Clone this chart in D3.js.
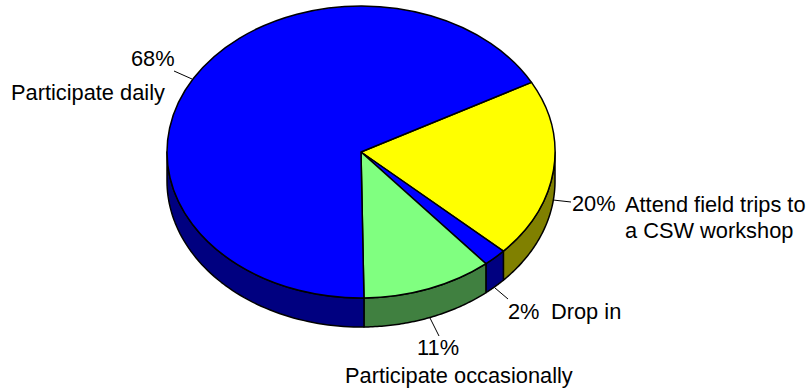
<!DOCTYPE html>
<html>
<head>
<meta charset="utf-8">
<script src="https://cdn.jsdelivr.net/npm/d3@7"></script>
<style>
html,body{margin:0;padding:0;background:#fff}
svg{display:block}
text{font-family:"Liberation Sans",Arial,sans-serif;font-size:21.8px;fill:#000}
</style>
</head>
<body>
<svg id="chart" width="810" height="389"></svg>
<script>
// Survey shares, clockwise from the upper right of the pie
const categories = ["Attend field trips to a CSW workshop", "Drop in", "Participate occasionally", "Participate daily"];
const shares = [20, 2, 11, 68];
const topColours = ["#ffff00", "#0000ff", "#80ff80", "#0000ff"];
const wallColours = ["#808000", "#000080", "#408040", "#000080"];

// Ellipse layout of the tilted pie
const W = 810, H = 389;
const cx = 361, cy = 152, rx = 194, ry = 146, depth = 29;
const startAngle = (90 - 28.5) * Math.PI / 180;

const svg = d3.select("#chart").attr("viewBox", [0, 0, W, H]);

const pie = d3.pie().sort(null).startAngle(startAngle).endAngle(startAngle + 2 * Math.PI);
const slices = pie(shares);

// d3 pie angles run clockwise from twelve o'clock
const px = a => cx + rx * Math.sin(a);
const py = a => cy - ry * Math.cos(a);

const wallGroup = svg.append("g");
const topGroup = svg.append("g");

// Side wall: only the front half of the ellipse (angles between 90 and 270 degrees) shows
slices.forEach((s, i) => {
  const a0 = Math.max(s.startAngle, Math.PI / 2);
  const a1 = Math.min(s.endAngle, 3 * Math.PI / 2);
  if (a1 <= a0) return;
  const steps = d3.range(0, 61).map(k => a0 + (a1 - a0) * k / 60);
  const rim = steps.map(a => [px(a), py(a)]);
  const lower = steps.slice().reverse().map(a => [px(a), py(a) + depth]);
  wallGroup.append("path")
    .attr("d", d3.line()(rim.concat(lower)) + "Z")
    .attr("fill", wallColours[i])
    .attr("stroke", "#000")
    .attr("stroke-width", 1.5)
    .attr("stroke-linejoin", "round");
});

// Top face: circular arcs squashed into the ellipse
const arc = d3.arc().innerRadius(0).outerRadius(rx);
topGroup.attr("transform", `translate(${cx},${cy}) scale(1,${ry / rx})`)
  .selectAll("path")
  .data(slices)
  .join("path")
  .attr("d", arc)
  .attr("fill", (d, i) => topColours[i])
  .attr("stroke", "#000")
  .attr("stroke-width", 1.5)
  .attr("stroke-linejoin", "round")
  .attr("vector-effect", "non-scaling-stroke");

// Leader lines and labels
const leaders = [
  [553, 200, 571, 202],
  [495, 288, 508, 299],
  [430, 318, 439, 336],
  [192, 79, 174, 71]
];
svg.append("g").selectAll("line").data(leaders).join("line")
  .attr("x1", d => d[0]).attr("y1", d => d[1])
  .attr("x2", d => d[2]).attr("y2", d => d[3])
  .attr("stroke", "#000").attr("stroke-width", 1);

const percentAt = [[572, 211], [508, 319], [417, 355], [131, 66]];
svg.append("g").selectAll("text").data(shares).join("text")
  .attr("x", (d, i) => percentAt[i][0])
  .attr("y", (d, i) => percentAt[i][1])
  .text(d => d + "%");

const nameLines = [
  [["Attend field trips to", 625, 212], ["a CSW workshop", 625, 238]],
  [[categories[1], 551, 319]],
  [[categories[2], 345, 383]],
  [[categories[3], 11, 100]]
];
svg.append("g").selectAll("text").data(nameLines.flat()).join("text")
  .attr("x", d => d[1])
  .attr("y", d => d[2])
  .text(d => d[0]);
</script>
</body>
</html>
